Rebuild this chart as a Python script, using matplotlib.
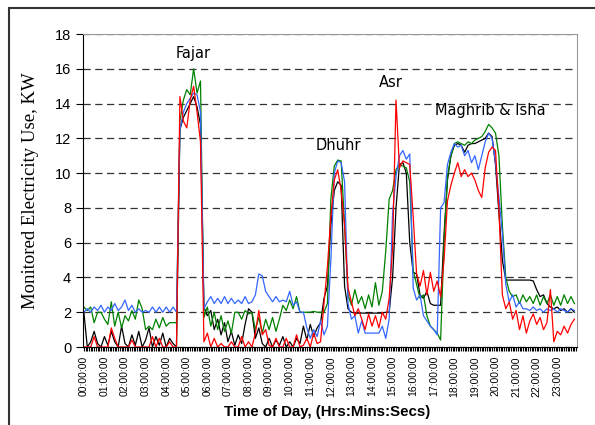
#===============================================================================
# DESCRIPTION
#     monitored electricity use over one day (10 min steps), 4 meters
#===============================================================================
import numpy as np
import matplotlib.pyplot as plt
from matplotlib.patches import Rectangle

hour_labels = ['%02d:00:00' % h for h in range(24)]

# one row = one hour (6 x 10 min)
black = [2.0, 0.0, 0.3, 0.9, 0.2, 0.0,
         0.6, 0.1, 0.9, 0.3, 0.0, 1.2,
         0.2, 0.0, 0.7, 0.1, 0.9, 0.0,
         0.4, 1.1, 0.0, 0.6, 0.1, 0.8,
         0.0, 0.5, 0.2, 0.0, 12.5, 13.2,
         13.6, 14.0, 14.4, 13.8, 12.8, 2.3,
         1.8, 2.1, 1.0, 1.6, 0.7, 1.4,
         0.3, 0.9, 0.1, 0.7, 0.2, 1.3,
         2.2, 2.0, 0.5, 1.1, 0.2, 0.0,
         0.5, 0.0, 0.4, 0.1, 0.6, 0.0,
         0.3, 0.0, 0.5, 0.2, 1.2, 0.4,
         1.3, 0.6, 1.1, 1.4, 2.8, 3.5,
         7.0, 9.0, 9.5, 9.3, 3.5, 2.2,
         2.0, 1.95, 1.95, 1.95, 1.95, 1.95,
         1.95, 1.95, 1.95, 1.95, 2.0, 2.0,
         4.0, 8.0, 10.5, 10.6, 10.0, 6.0,
         4.3, 4.2, 3.0, 2.8, 3.2, 2.5,
         2.4, 2.4, 2.4, 6.5, 9.6, 11.0,
         11.6, 11.7, 11.6, 11.2, 11.6, 11.7,
         11.7, 11.8, 11.9, 12.0, 12.3, 12.1,
         10.5, 7.7, 5.0, 3.85, 3.85, 3.85,
         3.85, 3.85, 3.85, 3.85, 3.85, 3.8,
         3.3, 2.9, 3.0, 2.5, 2.3, 2.2,
         2.3, 2.1, 2.2, 2.0, 2.2, 2.0]

red = [0, 0, 0, 0.6, 0, 0,
       0, 0, 1.1, 0.5, 0, 0,
       0, 0, 0.4, 0, 0, 0,
       0, 0, 0.6, 0, 0.5, 0,
       0, 0.3, 0, 0, 14.4, 13.0,
       12.6, 14.2, 15.0, 13.5, 11.8, 0.3,
       0.8, 0, 0.5, 0, 0.2, 0,
       0, 0.3, 0, 0, 0.6, 0,
       0.3, 0, 0.8, 2.1, 0.7, 1.0,
       0.1, 0, 0.5, 0, 0, 0.5,
       0, 0, 0.7, 0, 0.1, 0.5,
       0, 0.8, 0.2, 0.3, 2.5, 4.6,
       7.5, 9.6, 10.2, 9.0, 7.0, 3.4,
       2.6, 1.8, 2.2, 1.6, 1.0, 1.9,
       1.2, 1.8, 1.1, 2.0, 1.6, 2.8,
       5.7, 14.2, 10.3, 10.7, 10.6, 10.5,
       7.5, 4.2, 3.5, 4.4, 3.0, 4.3,
       3.2, 3.8, 2.9, 5.0, 8.4, 9.3,
       10.0, 10.6, 9.8, 10.2, 9.8, 10.0,
       9.6, 9.0, 8.6, 10.3, 11.2, 11.5,
       11.3, 7.9, 3.0, 2.2, 2.6, 1.6,
       2.1, 1.0, 1.8, 0.8, 1.5, 1.9,
       1.3, 1.7, 1.0, 1.4, 3.3, 0.3,
       0.9, 0.7, 1.2, 0.8, 1.3, 1.6]

green = [2.3, 2.1, 2.3, 1.4, 2.0, 2.0,
         1.6, 1.3, 2.6, 1.2, 2.0, 1.1,
         1.8, 1.5, 2.1, 1.6, 2.7, 2.2,
         1.0, 1.2, 1.0, 1.6, 1.1, 1.7,
         1.2, 1.4, 1.4, 1.4, 13.0, 14.2,
         14.8, 14.5, 16.0, 14.6, 15.3, 1.7,
         2.3, 1.2, 2.0, 1.0, 1.8, 0.9,
         1.5, 0.8, 2.0, 2.0, 1.6, 2.1,
         1.9, 2.0, 1.0, 1.7, 0.8, 1.6,
         1.0, 1.7, 0.9, 1.6, 2.4, 2.1,
         2.7, 2.2, 2.9, 2.0, 2.0, 2.0,
         2.0, 2.05, 2.0, 2.0, 2.0, 2.5,
         8.5, 10.4, 10.75, 10.7, 7.0, 3.0,
         2.4, 3.3, 2.5, 2.9, 2.2, 3.0,
         2.3, 3.7, 2.4, 3.2, 5.5, 8.5,
         9.0, 10.2, 10.5, 10.4, 10.3, 9.5,
         4.4, 3.6, 2.8, 3.0, 1.8, 1.2,
         1.0, 0.8, 0.4, 6.0, 9.8, 11.0,
         11.7, 11.8, 11.7, 11.6, 11.8, 11.7,
         11.9, 12.0, 12.1, 12.4, 12.8, 12.6,
         12.3, 11.0, 7.0, 4.0, 3.2, 2.9,
         3.0, 2.5, 3.0, 2.6, 2.9, 2.5,
         3.0, 2.4, 2.9, 2.5, 3.0, 2.4,
         2.9, 2.4, 3.0, 2.5, 2.9, 2.5]

blue = [2.0, 2.2, 2.0, 2.3, 2.1, 2.4,
        2.0, 2.3, 2.1, 2.5, 2.1, 2.3,
        2.7, 2.1, 2.4, 2.0, 2.2, 2.0,
        2.1, 2.0, 2.3, 2.0, 2.3, 2.0,
        2.3, 2.0, 2.3, 2.0, 12.5, 13.5,
        14.0, 14.3, 14.6, 14.5, 13.5, 2.2,
        2.6, 2.9, 2.5, 2.8, 2.5, 2.9,
        2.5, 2.8, 2.5, 2.7, 2.5, 2.9,
        2.5, 2.6, 3.0, 4.2, 4.1, 3.2,
        2.9, 2.6, 2.9, 2.6, 2.7, 2.6,
        3.2, 2.4, 2.6, 2.0, 2.0, 1.1,
        0.5, 1.0, 0.6, 1.5, 0.7, 1.2,
        5.0, 10.0, 10.7, 10.6, 9.5, 2.5,
        1.6, 1.8, 0.8, 1.5, 0.8, 0.8,
        0.8, 0.8, 0.8, 1.2, 0.5, 1.6,
        7.7, 9.8, 11.0, 11.3, 10.8, 11.1,
        3.4, 2.7, 3.0, 1.8, 1.5, 1.2,
        1.0, 0.7, 8.0, 8.3, 10.5, 11.2,
        11.7, 11.5, 11.6, 11.0, 11.3, 10.6,
        11.0, 10.2, 11.0, 11.8, 12.3, 12.0,
        10.6, 8.6, 6.5, 3.6, 2.6, 3.0,
        2.3, 2.6, 2.2, 2.2, 2.1, 2.3,
        2.1, 2.2, 2.0, 2.2, 2.1, 2.2,
        2.0, 2.2, 2.1, 2.0, 2.2, 2.1]

prayers = ['Fajar', 'Dhuhr', 'Asr', 'Maghrib & Isha']
prayer_x = [5.3, 12.35, 14.92, 19.74]   # hours
prayer_y = [16.9, 11.6, 15.2, 13.6]     # kW

if __name__ == "__main__":
    t = np.arange(len(black)) / 6.0  # hours

    fig = plt.figure(figsize=(5.95, 4.25), dpi=100)
    ax = fig.add_axes([0.1395, 0.1835, 0.8302, 0.7365])

    ax.plot(t, black, color='black', lw=0.9)
    ax.plot(t, green, color='#008000', lw=0.9)
    ax.plot(t, blue, color='#3366ff', lw=0.9)
    ax.plot(t, red, color='#ff0000', lw=0.9)

    for name, px, py in zip(prayers, prayer_x, prayer_y):
        ax.text(px, py, name, ha='center', va='center', fontsize=10.5,
                family='DejaVu Sans')

    ax.set_xlim(-1 / 24., 24 - 1 / 24.)
    ax.set_ylim(0, 18)
    ax.set_yticks(np.arange(0, 19, 2))
    ax.yaxis.grid(True, linestyle=(0, (5.8, 3.6)), color='#333333', lw=0.9)
    ax.set_axisbelow(True)
    ax.tick_params(axis='y', direction='out', length=5, labelsize=10.5)
    for lab in ax.get_yticklabels():
        lab.set_family('Liberation Sans')

    ax.set_xticks(np.arange(24))
    ax.set_xticklabels(hour_labels, rotation=90, fontsize=7.5,
                       family='Liberation Sans')
    ax.set_xticks(np.arange(0, 24, 1 / 12.), minor=True)
    ax.tick_params(axis='x', which='both', direction='out', length=3,
                   width=0.8)

    for s in ['top', 'right']:
        ax.spines[s].set_color('#999999')
    for s in ['left', 'bottom']:
        ax.spines[s].set_color('black')

    fig.text(31 / 595., 0.5506, 'Monitored Electricity Use, KW', rotation=90,
             ha='center', va='center', fontsize=13.5, family='Liberation Serif')
    fig.text(327 / 595., 1 - 412 / 425., 'Time of Day, (Hrs:Mins:Secs)',
             ha='center', va='center', fontsize=10.8, weight='bold',
             family='Liberation Sans')

    # outer frame
    fig.add_artist(Rectangle((9 / 595., -0.2), 1.5, 1.2 - 8 / 425.,
                             transform=fig.transFigure, fill=False,
                             ec='#333333', lw=1.5))

    fig.savefig('out.png', dpi=100)
